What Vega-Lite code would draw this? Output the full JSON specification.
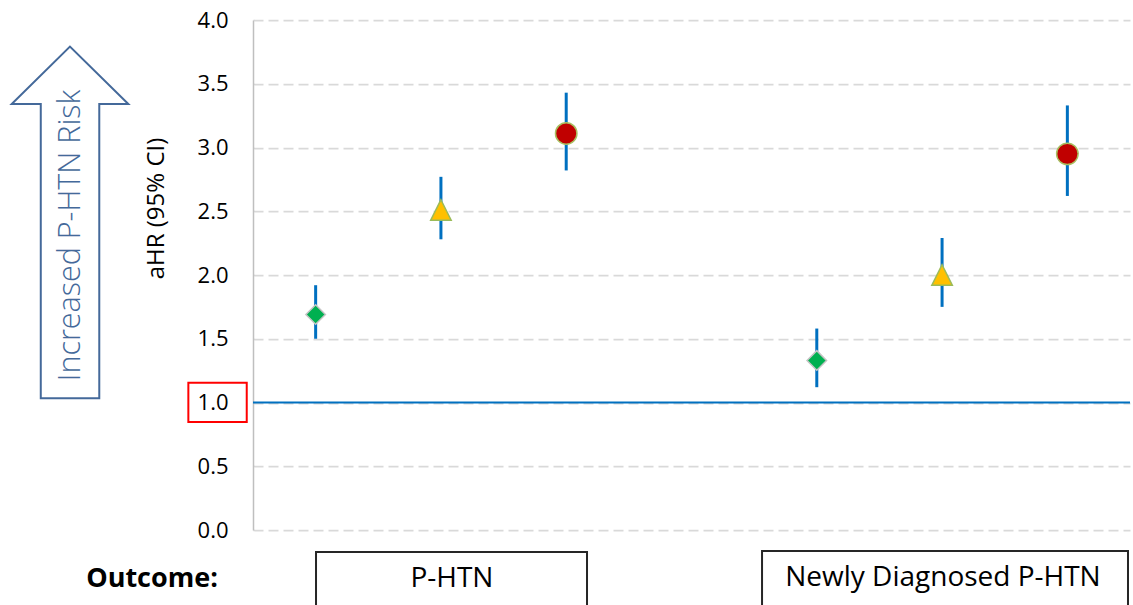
{
  "$schema": "https://vega.github.io/schema/vega-lite/v6.json",
  "width": 877,
  "height": 510,
  "autosize": {"type": "none"},
  "padding": {"left": 253, "top": 20, "right": 3, "bottom": 75},
  "background": "white",
  "config": {"view": {"stroke": null}, "font": "Open Sans"},
  "data": {"values": [{}]},
  "datasets": {
    "est": [
      {"outcome": "P-HTN", "group": "A", "slot": 1, "ahr": 1.69, "lo": 1.50, "hi": 1.92},
      {"outcome": "P-HTN", "group": "B", "slot": 2, "ahr": 2.51, "lo": 2.28, "hi": 2.77},
      {"outcome": "P-HTN", "group": "C", "slot": 3, "ahr": 3.11, "lo": 2.82, "hi": 3.43},
      {"outcome": "Newly Diagnosed P-HTN", "group": "A", "slot": 5, "ahr": 1.33, "lo": 1.12, "hi": 1.58},
      {"outcome": "Newly Diagnosed P-HTN", "group": "B", "slot": 6, "ahr": 2.00, "lo": 1.75, "hi": 2.29},
      {"outcome": "Newly Diagnosed P-HTN", "group": "C", "slot": 7, "ahr": 2.95, "lo": 2.62, "hi": 3.33}
    ],
    "arrow": [
      {"i": 0, "ax": -1.194, "ay": 1.033},
      {"i": 1, "ax": -1.194, "ay": 3.341},
      {"i": 2, "ax": -1.426, "ay": 3.341},
      {"i": 3, "ax": -0.961, "ay": 3.791},
      {"i": 4, "ax": -0.495, "ay": 3.341},
      {"i": 5, "ax": -0.727, "ay": 3.341},
      {"i": 6, "ax": -0.727, "ay": 1.033},
      {"i": 7, "ax": -1.194, "ay": 1.033},
      {"i": 8, "ax": -1.194, "ay": 1.5}
    ]
  },
  "layer": [
    {
      "data": {"name": "est"},
      "mark": {"type": "rule", "color": "#0070C0", "strokeWidth": 3},
      "encoding": {
        "x": {"field": "slot", "type": "quantitative", "scale": {"domain": [0.5, 7.5], "nice": false, "zero": false}, "axis": null},
        "y": {
          "field": "lo", "type": "quantitative",
          "scale": {"domain": [0, 4], "nice": false, "zero": false},
          "axis": {
            "title": "aHR (95% CI)",
            "values": [0, 0.5, 1, 1.5, 2, 2.5, 3, 3.5, 4],
            "format": ".1f",
            "labelFont": "Open Sans",
            "labelFontSize": 22,
            "labelColor": "#000000",
            "labelPadding": 25,
            "ticks": false,
            "domainColor": "#bfbfbf",
            "domainWidth": 1.5,
            "grid": true,
            "gridColor": "#d9d9d9",
            "gridDash": [10, 5],
            "gridWidth": 1.75,
            "titleFont": "Open Sans",
            "titleFontSize": 24,
            "titleFontWeight": "normal",
            "titleColor": "#000000",
            "titlePadding": 29,
            "titleY": 188
          }
        },
        "y2": {"field": "hi"}
      }
    },
    {
      "mark": {"type": "rule", "color": "#0070C0", "strokeWidth": 2},
      "encoding": {"y": {"datum": 1}}
    },
    {
      "data": {"name": "est"},
      "mark": {"type": "point", "filled": true, "opacity": 1, "fillOpacity": 1, "strokeWidth": 1.5},
      "encoding": {
        "x": {"field": "slot", "type": "quantitative"},
        "y": {"field": "ahr", "type": "quantitative"},
        "shape": {"field": "group", "type": "nominal", "scale": {"domain": ["A", "B", "C"], "range": ["diamond", "M0,-1L1,1L-1,1Z", "circle"]}, "legend": null},
        "fill": {"field": "group", "type": "nominal", "scale": {"domain": ["A", "B", "C"], "range": ["#00B050", "#FFC000", "#C00000"]}, "legend": null},
        "stroke": {"field": "group", "type": "nominal", "scale": {"domain": ["A", "B", "C"], "range": ["#c4c4c4", "#9bbb59", "#a8bf62"]}, "legend": null},
        "size": {"field": "group", "type": "ordinal", "scale": {"domain": ["A", "B", "C"], "range": [380, 460, 441]}, "legend": null}
      }
    },
    {
      "data": {"name": "arrow"},
      "mark": {"type": "line", "color": "#44699a", "strokeWidth": 2, "strokeJoin": "miter"},
      "encoding": {
        "x": {"field": "ax", "type": "quantitative"},
        "y": {"field": "ay", "type": "quantitative"},
        "order": {"field": "i", "type": "quantitative"}
      }
    },
    {
      "mark": {"type": "text", "text": "Increased P-HTN Risk", "angle": 270, "font": "Open Sans", "fontWeight": 300, "fontSize": 30.5, "color": "#44699a", "align": "center", "baseline": "middle"},
      "encoding": {"x": {"datum": -0.953}, "y": {"datum": 2.31}}
    },
    {
      "mark": {"type": "rect", "fill": "transparent", "stroke": "#FF0000", "strokeWidth": 2},
      "encoding": {"x": {"datum": -0.016}, "x2": {"datum": 0.45}, "y": {"datum": 1.155}, "y2": {"datum": 0.847}}
    },
    {
      "mark": {"type": "rect", "fill": "white", "stroke": "#262626", "strokeWidth": 2},
      "encoding": {"x": {"datum": 1.003}, "x2": {"datum": 3.166}, "y": {"datum": -0.1725}, "y2": {"datum": -0.66}}
    },
    {
      "mark": {"type": "rect", "fill": "white", "stroke": "#262626", "strokeWidth": 2},
      "encoding": {"x": {"datum": 4.563}, "x2": {"datum": 7.484}, "y": {"datum": -0.165}, "y2": {"datum": -0.66}}
    },
    {
      "mark": {"type": "text", "text": "P-HTN", "font": "Open Sans", "fontSize": 28, "color": "#000000", "align": "center", "baseline": "alphabetic"},
      "encoding": {"x": {"datum": 2.088}, "y": {"datum": -0.447}}
    },
    {
      "mark": {"type": "text", "text": "Newly Diagnosed P-HTN", "font": "Open Sans", "fontSize": 28, "color": "#000000", "align": "center", "baseline": "alphabetic"},
      "encoding": {"x": {"datum": 6.007}, "y": {"datum": -0.44}}
    },
    {
      "mark": {"type": "text", "text": "Outcome:", "font": "Open Sans", "fontWeight": "bold", "fontSize": 27, "color": "#000000", "align": "center", "baseline": "alphabetic"},
      "encoding": {"x": {"datum": -0.306}, "y": {"datum": -0.447}}
    }
  ]
}
